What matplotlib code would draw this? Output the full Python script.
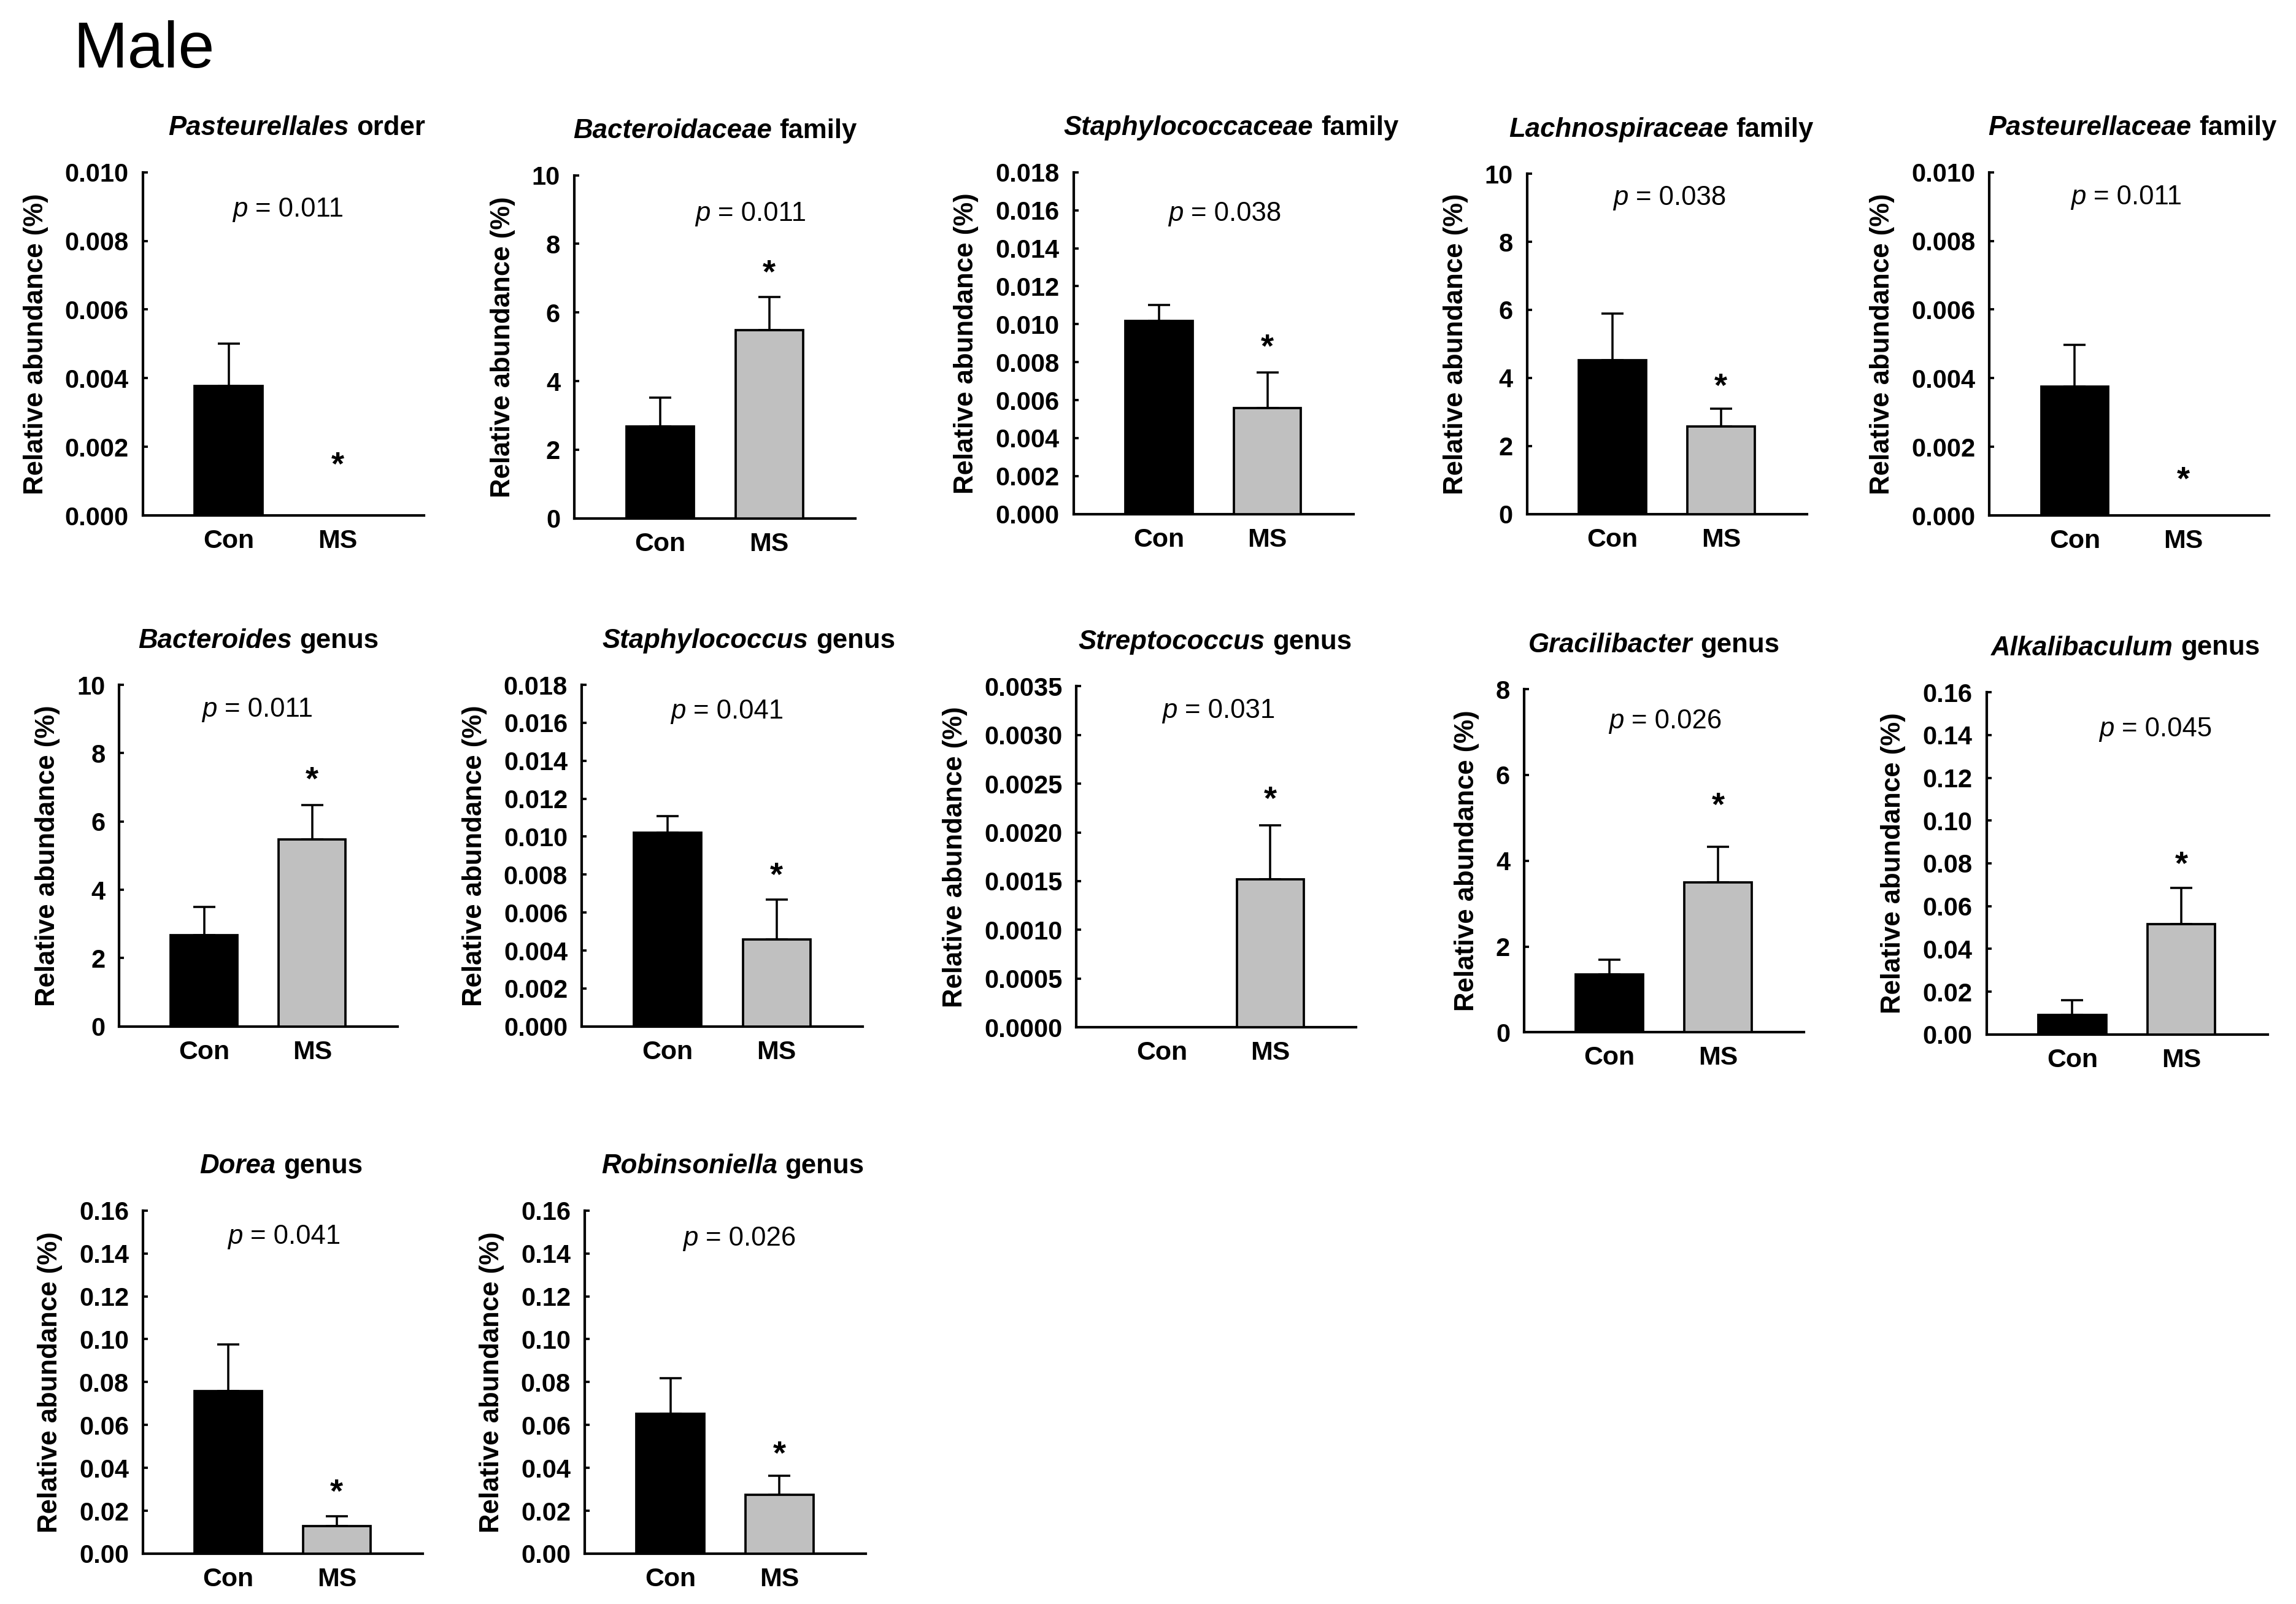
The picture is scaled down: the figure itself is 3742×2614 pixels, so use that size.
import numpy as np
import matplotlib
matplotlib.use("Agg")
import matplotlib.pyplot as plt
from matplotlib.offsetbox import TextArea, HPacker, AnnotationBbox

plt.rcParams['font.family'] = ['Liberation Sans', 'DejaVu Sans']

# ---- data ----
groups = ["Con", "MS"]
taxa = ["Pasteurellales", "Bacteroidaceae", "Staphylococcaceae", "Lachnospiraceae",
        "Pasteurellaceae", "Bacteroides", "Staphylococcus", "Streptococcus",
        "Gracilibacter", "Alkalibaculum", "Dorea", "Robinsoniella"]
ranks = ["order", "family", "family", "family", "family", "genus", "genus", "genus",
         "genus", "genus", "genus", "genus"]
p_values = ["0.011", "0.011", "0.038", "0.038", "0.011", "0.011", "0.041", "0.031",
            "0.026", "0.045", "0.041", "0.026"]
con_mean = [0.00377, 2.67, 0.01018, 4.52, 0.00376, 2.67, 0.01021, 0.0, 1.35, 0.0093, 0.0757, 0.0652]
con_sem = [0.00123, 0.85, 0.00084, 1.38, 0.00121, 0.83, 0.00088, 0.0, 0.34, 0.0067, 0.0218, 0.0167]
ms_mean = [0.0, 5.49, 0.00559, 2.58, 0.0, 5.48, 0.0046, 0.00152, 3.50, 0.0516, 0.0130, 0.0275]
ms_sem = [0.0, 0.96, 0.00187, 0.51, 0.0, 1.00, 0.00209, 0.00055, 0.83, 0.0168, 0.0044, 0.0089]
star_y = [0.00161, 7.3, 0.00905, 3.9, 0.00118, 7.37, 0.00822, 0.00239, 5.41, 0.082, 0.0311, 0.0489]
y_max = [0.010, 10, 0.018, 10, 0.010, 10, 0.018, 0.0035, 8, 0.16, 0.16, 0.16]
y_step = [0.002, 2, 0.002, 2, 0.002, 2, 0.002, 0.0005, 2, 0.02, 0.02, 0.02]
y_dec = [3, 0, 3, 0, 3, 0, 3, 4, 0, 2, 2, 2]

# ---- layout (reference pixels at 1/2.4 scale) ----
W, H = 3742 / 2.4, 2614 / 2.4
boxes = [  # left, right, top, bottom
    (97, 288, 117, 350), (390, 581, 119, 352), (729, 919, 117, 349),
    (1037, 1227, 118, 349), (1351, 1541, 117, 350),
    (81, 270, 465, 697), (395, 586, 465, 697), (731, 921, 466, 697.5),
    (1035, 1225, 468, 701), (1349, 1540, 470, 702.5),
    (97, 287, 822, 1055), (397, 588, 822, 1055),
]
title_dx = [9, 0, 12, -4, 2, 0, 18, -1, -7, -1, -1, 5]
p_pos = [(0.516, 0.892), (0.628, 0.888), (0.54, 0.879), (0.51, 0.93), (0.49, 0.928),
         (0.497, 0.927), (0.518, 0.922), (0.508, 0.927), (0.505, 0.906), (0.602, 0.892),
         (0.505, 0.923), (0.55, 0.918)]

PX = 2.4 * 72 / 300  # reference px -> points
FS = 10.5

fig = plt.figure(figsize=(3742 / 300, 2614 / 300), dpi=300)
fig.text(49.6 / W, 1 - 45.8 / H, "Male", fontsize=25.5, va="baseline", ha="left")

for i, (l, r, t, b) in enumerate(boxes):
    ax = fig.add_axes([l / W, 1 - b / H, (r - l) / W, (b - t) / H])
    x = np.arange(len(groups))
    ax.bar(x, [con_mean[i], ms_mean[i]], width=0.62, color=["black", "#c0c0c0"],
           edgecolor="black", linewidth=0.9, zorder=3)
    for xi, m, e in zip(x, [con_mean[i], ms_mean[i]], [con_sem[i], ms_sem[i]]):
        if e > 0:
            ax.errorbar(xi, m, yerr=[[0], [e]], fmt="none", ecolor="black",
                        elinewidth=0.85, capsize=4.4, capthick=0.85, zorder=2)

    ax.set_xlim(-0.786, 1.791)
    ax.set_ylim(0, y_max[i])
    ticks = np.arange(0, y_max[i] + y_step[i] / 2, y_step[i])
    ax.set_yticks(ticks)
    ax.set_yticklabels([f"{v:.{y_dec[i]}f}" for v in ticks], fontweight="bold", fontsize=10)
    ax.set_xticks(x)
    ax.set_xticklabels(groups, fontweight="bold", fontsize=10.3)
    ax.tick_params(axis="x", length=0, pad=5.3)
    ax.tick_params(axis="y", direction="in", length=2, width=0.9, pad=5.5)
    for s in ["top", "right"]:
        ax.spines[s].set_visible(False)
    for s in ["left", "bottom"]:
        ax.spines[s].set_linewidth(1.0)
    ax.set_ylabel("Relative abundance (%)", fontweight="bold", fontsize=10.5, labelpad=6.5)

    # significance star
    ax.annotate("*", (1, star_y[i]), xytext=(0, -2.5), textcoords="offset points",
                ha="center", va="center", fontsize=13, fontweight="bold")

    # p value
    pbox = HPacker(children=[TextArea("p", textprops=dict(fontstyle="italic", fontsize=FS)),
                             TextArea("= " + p_values[i], textprops=dict(fontsize=FS))],
                   align="baseline", pad=0, sep=3)
    ax.add_artist(AnnotationBbox(pbox, p_pos[i], xycoords="axes fraction", frameon=False,
                                 box_alignment=(0.5, 0.5), annotation_clip=False))

    # panel title
    tbox = HPacker(children=[TextArea(taxa[i], textprops=dict(fontstyle="italic", fontweight="bold", fontsize=FS)),
                             TextArea(ranks[i], textprops=dict(fontweight="bold", fontsize=FS))],
                   align="baseline", pad=0, sep=3)
    ax.add_artist(AnnotationBbox(tbox, (0.5, 1), xycoords="axes fraction",
                                 xybox=(title_dx[i] * PX, 30 * PX), boxcoords="offset points",
                                 frameon=False, box_alignment=(0.5, 0.5), annotation_clip=False))

fig.savefig("out.png", dpi=300)
